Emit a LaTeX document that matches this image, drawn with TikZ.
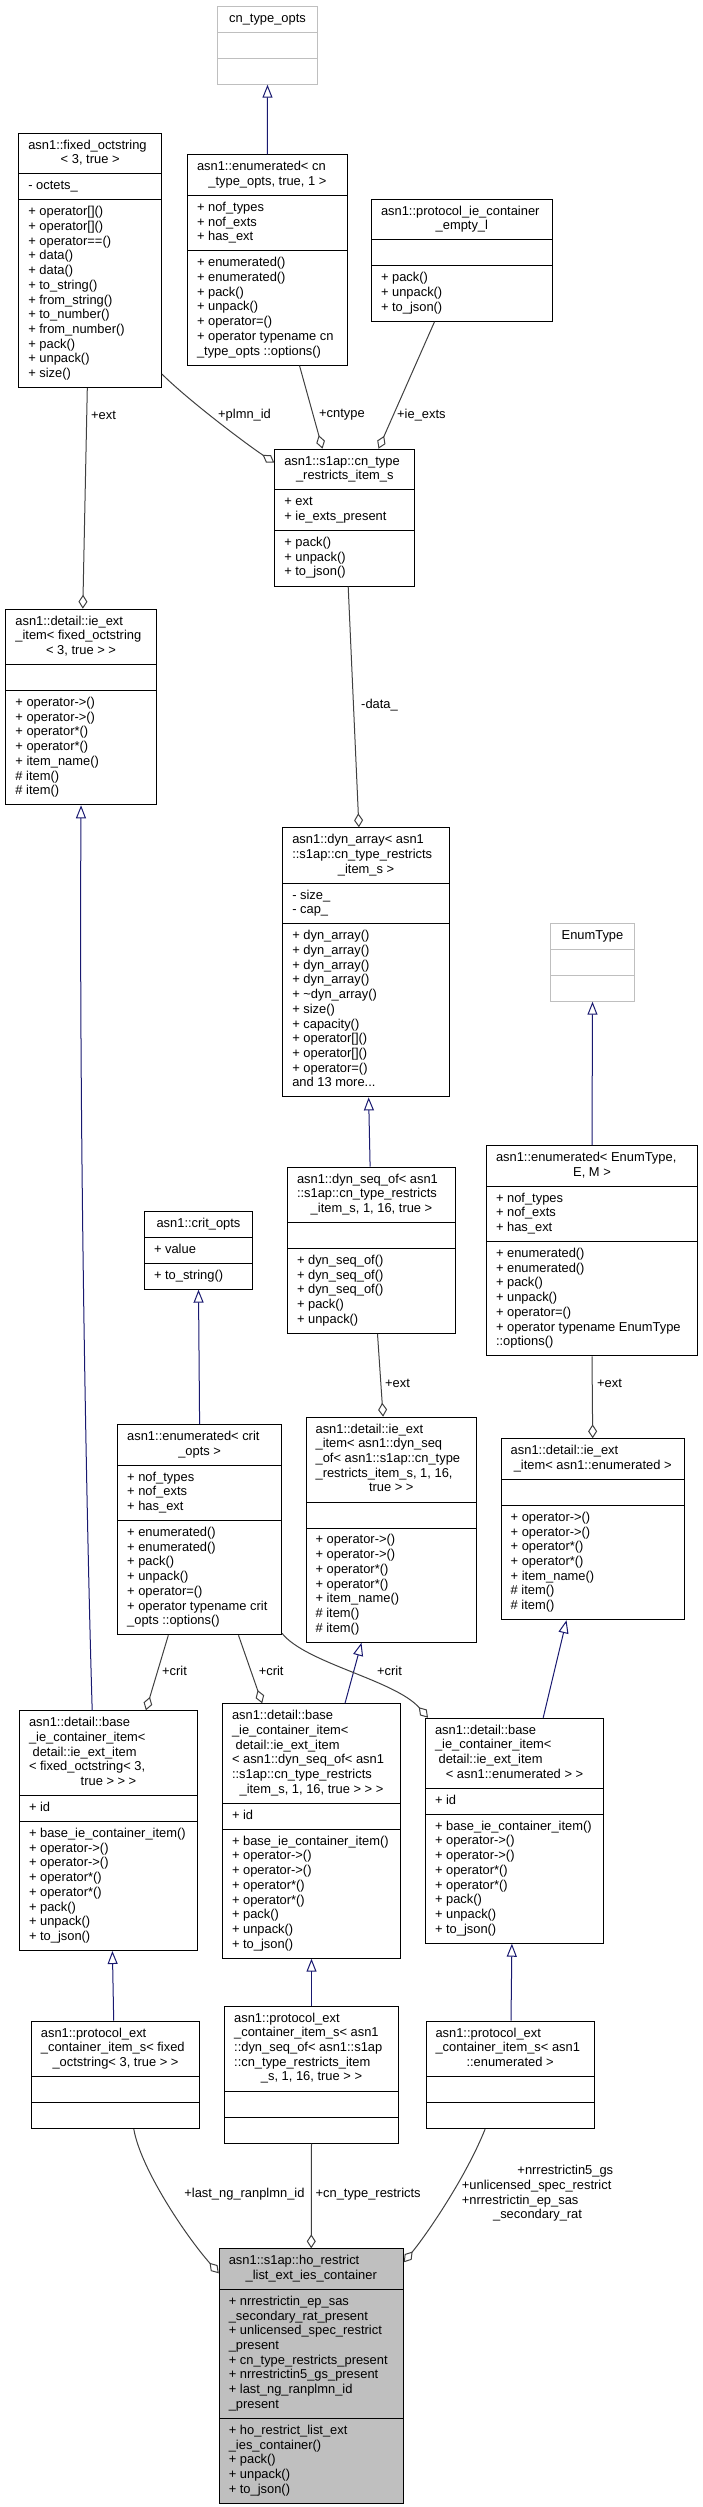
\documentclass[tikz,border=0pt]{standalone}
\usepackage{fontspec}
\setmainfont{Liberation Sans}
\usetikzlibrary{shapes.multipart,arrows.meta}
\definecolor{edgegrey}{HTML}{404040}
\definecolor{inhblue}{HTML}{191970}
\definecolor{boxgrey}{HTML}{BFBFBF}
\definecolor{undocgrey}{HTML}{BFBFBF}
\newcommand{\classfont}{\fontsize{12.9}{14.7}\selectfont\hyphenpenalty=10000\relax}
\newcommand{\cln}[1]{\hspace*{\fill}#1\hspace*{\fill}}
\tikzset{
  classbox/.style={rectangle split, rectangle split parts=3, draw=black, line width=1pt,
    fill=white, anchor=north west, inner xsep=9.5pt, inner ysep=5.15pt,
    align=flush left, font=\classfont},
  undocbox/.style={classbox, draw=undocgrey},
  mainbox/.style={classbox, fill=boxgrey},
  inherit/.style={draw=inhblue, line width=1pt, -{Triangle[open, length=13pt, width=10pt]}},
  member/.style={draw=edgegrey, line width=1pt, -{Diamond[open, length=14pt, width=9pt]}},
  edgelabel/.style={inner sep=0pt, font=\classfont, anchor=west}
}
\begin{document}
\begin{tikzpicture}[x=1pt,y=-1pt]
\useasboundingbox (0,0) rectangle (702,2507);
% classes
\node[undocbox, text width=81pt] (cntypeopts) at (217,5.7)
  {\strut\cln{cn\_type\_opts}\strut \nodepart{two}\strut \nodepart{three}\strut};
\node[classbox, text width=123.7pt] (fixedoct) at (18.3,132.7)
  {\strut asn1::fixed\_octstring\\ \cln{< 3, true >}\strut
   \nodepart{two}\strut - octets\_\strut
   \nodepart{three}\strut + operator[]()\\ + operator[]()\\ + operator==()\\ + data()\\ + data()\\
   + to\_string()\\ + from\_string()\\ + to\_number()\\ + from\_number()\\ + pack()\\ + unpack()\\ + size()\strut};
\node[classbox, text width=140.8pt] (enumcn) at (187,154.3)
  {\strut asn1::enumerated< cn\\ \cln{\_type\_opts, true, 1 >}\strut
   \nodepart{two}\strut + nof\_types\\ + nof\_exts\\ + has\_ext\strut
   \nodepart{three}\strut + enumerated()\\ + enumerated()\\ + pack()\\ + unpack()\\ + operator=()\\
   + operator typename cn\\ \_type\_opts ::options()\strut};
\node[classbox, text width=161.7pt] (ieempty) at (371,198.7)
  {\strut asn1::protocol\_ie\_container\\ \cln{\_empty\_l}\strut
   \nodepart{two}\strut
   \nodepart{three}\strut + pack()\\ + unpack()\\ + to\_json()\strut};
\node[classbox, text width=121pt] (cnitem) at (274.3,448.7)
  {\strut asn1::s1ap::cn\_type\\ \cln{\_restricts\_item\_s}\strut
   \nodepart{two}\strut + ext\\ + ie\_exts\_present\strut
   \nodepart{three}\strut + pack()\\ + unpack()\\ + to\_json()\strut};
\node[classbox, text width=131.3pt] (ieextfix) at (5.4,608.7)
  {\strut asn1::detail::ie\_ext\\ \_item< fixed\_octstring\\ \cln{< 3, true > >}\strut
   \nodepart{two}\strut
   \nodepart{three}\strut + operator->()\\ + operator->()\\ + operator*()\\ + operator*()\\
   + item\_name()\\ \# item()\\ \# item()\strut};
\node[classbox, text width=147.5pt] (dynarray) at (282.3,827.3)
  {\strut asn1::dyn\_array< asn1\\ ::s1ap::cn\_type\_restricts\\ \cln{\_item\_s >}\strut
   \nodepart{two}\strut - size\_\\ - cap\_\strut
   \nodepart{three}\strut + dyn\_array()\\ + dyn\_array()\\ + dyn\_array()\\ + dyn\_array()\\
   + \textasciitilde dyn\_array()\\ + size()\\ + capacity()\\ + operator[]()\\ + operator[]()\\
   + operator=()\\ and 13 more...\strut};
\node[undocbox, text width=65pt] (enumtype) at (550,922.7)
  {\strut\cln{EnumType}\strut \nodepart{two}\strut \nodepart{three}\strut};
\node[classbox, text width=192pt] (enumgen) at (486,1145)
  {\strut asn1::enumerated< EnumType,\\ \cln{E, M >}\strut
   \nodepart{two}\strut + nof\_types\\ + nof\_exts\\ + has\_ext\strut
   \nodepart{three}\strut + enumerated()\\ + enumerated()\\ + pack()\\ + unpack()\\ + operator=()\\
   + operator typename EnumType\\ ::options()\strut};
\node[classbox, text width=149pt] (dynseq) at (287,1166.7)
  {\strut asn1::dyn\_seq\_of< asn1\\ ::s1ap::cn\_type\_restricts\\ \cln{\_item\_s, 1, 16, true >}\strut
   \nodepart{two}\strut
   \nodepart{three}\strut + dyn\_seq\_of()\\ + dyn\_seq\_of()\\ + dyn\_seq\_of()\\ + pack()\\ + unpack()\strut};
\node[classbox, text width=89pt] (critopts) at (144,1210.7)
  {\strut\cln{asn1::crit\_opts}\strut
   \nodepart{two}\strut + value\strut
   \nodepart{three}\strut + to\_string()\strut};
\node[classbox, text width=144.8pt] (enumcrit) at (117.2,1424)
  {\strut asn1::enumerated< crit\\ \cln{\_opts >}\strut
   \nodepart{two}\strut + nof\_types\\ + nof\_exts\\ + has\_ext\strut
   \nodepart{three}\strut + enumerated()\\ + enumerated()\\ + pack()\\ + unpack()\\ + operator=()\\
   + operator typename crit\\ \_opts ::options()\strut};
\node[classbox, text width=151.4pt] (ieextdyn) at (305.6,1416.7)
  {\strut asn1::detail::ie\_ext\\ \_item< asn1::dyn\_seq\\ \_of< asn1::s1ap::cn\_type\\
   \_restricts\_item\_s, 1, 16,\\ \cln{true > >}\strut
   \nodepart{two}\strut
   \nodepart{three}\strut + operator->()\\ + operator->()\\ + operator*()\\ + operator*()\\
   + item\_name()\\ \# item()\\ \# item()\strut};
\node[classbox, text width=164pt] (ieextenum) at (500.7,1438.3)
  {\strut asn1::detail::ie\_ext\\ \cln{\_item< asn1::enumerated >}\strut
   \nodepart{two}\strut
   \nodepart{three}\strut + operator->()\\ + operator->()\\ + operator*()\\ + operator*()\\
   + item\_name()\\ \# item()\\ \# item()\strut};
\node[classbox, text width=159pt] (basefix) at (19,1710.3)
  {\strut asn1::detail::base\\ \_ie\_container\_item<\\ \hspace*{.28em}detail::ie\_ext\_item\\
   < fixed\_octstring< 3,\\ \cln{true > > >}\strut
   \nodepart{two}\strut + id\strut
   \nodepart{three}\strut + base\_ie\_container\_item()\\ + operator->()\\ + operator->()\\
   + operator*()\\ + operator*()\\ + pack()\\ + unpack()\\ + to\_json()\strut};
\node[classbox, text width=159pt] (basedyn) at (222,1703.3)
  {\strut asn1::detail::base\\ \_ie\_container\_item<\\ \hspace*{.28em}detail::ie\_ext\_item\\
   < asn1::dyn\_seq\_of< asn1\\ ::s1ap::cn\_type\_restricts\\ \cln{\_item\_s, 1, 16, true > > >}\strut
   \nodepart{two}\strut + id\strut
   \nodepart{three}\strut + base\_ie\_container\_item()\\ + operator->()\\ + operator->()\\
   + operator*()\\ + operator*()\\ + pack()\\ + unpack()\\ + to\_json()\strut};
\node[classbox, text width=159pt] (baseenum) at (425,1717.7)
  {\strut asn1::detail::base\\ \_ie\_container\_item<\\ \hspace*{.28em}detail::ie\_ext\_item\\
   \cln{< asn1::enumerated > >}\strut
   \nodepart{two}\strut + id\strut
   \nodepart{three}\strut + base\_ie\_container\_item()\\ + operator->()\\ + operator->()\\
   + operator*()\\ + operator*()\\ + pack()\\ + unpack()\\ + to\_json()\strut};
\node[classbox, text width=149.2pt] (protofix) at (30.9,2020.7)
  {\strut asn1::protocol\_ext\\ \_container\_item\_s< fixed\\ \cln{\_octstring< 3, true > >}\strut
   \nodepart{two}\strut \nodepart{three}\strut};
\node[classbox, text width=154.6pt] (protodyn) at (224.2,2005.7)
  {\strut asn1::protocol\_ext\\ \_container\_item\_s< asn1\\ ::dyn\_seq\_of< asn1::s1ap\\
   ::cn\_type\_restricts\_item\\ \cln{\_s, 1, 16, true > >}\strut
   \nodepart{two}\strut \nodepart{three}\strut};
\node[classbox, text width=149.2pt] (protoenum) at (425.5,2020.7)
  {\strut asn1::protocol\_ext\\ \_container\_item\_s< asn1\\ \cln{::enumerated >}\strut
   \nodepart{two}\strut \nodepart{three}\strut};
\node[mainbox, text width=164.9pt] (hocont) at (218.8,2248.3)
  {\strut asn1::s1ap::ho\_restrict\\ \cln{\_list\_ext\_ies\_container}\strut
   \nodepart{two}\strut + nrrestrictin\_ep\_sas\\ \_secondary\_rat\_present\\ + unlicensed\_spec\_restrict\\
   \_present\\ + cn\_type\_restricts\_present\\ + nrrestrictin5\_gs\_present\\ + last\_ng\_ranplmn\_id\\ \_present\strut
   \nodepart{three}\strut + ho\_restrict\_list\_ext\\ \_ies\_container()\\ + pack()\\ + unpack()\\ + to\_json()\strut};
% inheritance
\draw[inherit] (enumcn.north) -- (cntypeopts.south);
\draw[inherit] (enumgen.north) -- (enumtype.south);
\draw[inherit] (enumcrit.north) -- (critopts.south);
\draw[inherit] ([xshift=-1.4pt]dynseq.north) -- ([xshift=2.6pt]dynarray.south);
\draw[inherit] ([xshift=-16.3pt]basefix.north) .. controls +(-6,-200) and +(-2,300) .. (ieextfix.south);
\draw[inherit] ([xshift=33.5pt]basedyn.north) -- ([xshift=-29.8pt]ieextdyn.south);
\draw[inherit] ([xshift=28.7pt]baseenum.north) -- ([xshift=-26.2pt]ieextenum.south);
\draw[inherit] ([xshift=-1.8pt]protofix.north) -- ([xshift=3.9pt]basefix.south);
\draw[inherit] (protodyn.north) -- (basedyn.south);
\draw[inherit] ([xshift=0.9pt]protoenum.north) -- ([xshift=-2.6pt]baseenum.south);
% members
\draw[member] ([xshift=-2.85pt]fixedoct.south) -- ([xshift=1.75pt]ieextfix.north);
\draw[member] ([yshift=14pt]fixedoct.south east) .. controls +(25,25) and +(-30,-20) .. ([yshift=-14pt]cnitem.north west);
\draw[member] ([xshift=32.1pt]enumcn.south) -- ([xshift=-22.3pt]cnitem.north);
\draw[member] ([xshift=-27.35pt]ieempty.south) -- ([xshift=33.7pt]cnitem.north);
\draw[member] ([xshift=3.4pt]cnitem.south) -- ([xshift=-7.15pt]dynarray.north);
\draw[member] ([xshift=6pt]dynseq.south) -- ([xshift=-8.2pt]ieextdyn.north);
\draw[member] (enumgen.south) -- (ieextenum.north);
\draw[member] ([xshift=-31.3pt]enumcrit.south) -- ([xshift=37.4pt]basefix.north);
\draw[member] ([xshift=38.9pt]enumcrit.south) -- ([xshift=-49.3pt]basedyn.north);
\draw[member] ([yshift=2pt]enumcrit.south east) .. controls +(24,30) and +(-33,-37.7) .. ([xshift=3pt]baseenum.north west);
\draw[member] ([xshift=18.3pt]protofix.south) .. controls +(6.7,39) and +(-33.8,-38.3) .. ([yshift=-25pt]hocont.north west);
\draw[member] (protodyn.south) -- (hocont.north);
\draw[member] ([xshift=-25pt]protoenum.south) .. controls +(-19.6,49) and +(22.3,-27) .. ([yshift=-14pt]hocont.north east);
% labels
\node[edgelabel] (lblfixext) at (91,415) {+ext};
\node[edgelabel] (lblplmn) at (218,415) {+plmn\_id};
\node[edgelabel] (lblcntype) at (319,415) {+cntype};
\node[edgelabel] (lblieexts) at (397,415) {+ie\_exts};
\node[edgelabel] (lbldata) at (361,705) {-data\_};
\node[edgelabel] (lbldynext) at (385,1383.7) {+ext};
\node[edgelabel] (lblenumext) at (597,1383.7) {+ext};
\node[edgelabel] (lblcrita) at (162,1670.7) {+crit};
\node[edgelabel] (lblcritb) at (258.6,1670.7) {+crit};
\node[edgelabel] (lblcritc) at (377,1670.7) {+crit};
\node[edgelabel, anchor=east] (lbllastng) at (304.7,2193.7) {+last\_ng\_ranplmn\_id};
\node[edgelabel] (lblcnrestr) at (315.4,2193.7) {+cn\_type\_restricts};
\node[edgelabel, text width=151.3pt, align=flush left] (lblenumm) at (461.7,2193.7)
  {\strut\cln{+nrrestrictin5\_gs}\\ +unlicensed\_spec\_restrict\\ +nrrestrictin\_ep\_sas\\ \cln{\_secondary\_rat}\strut};
\end{tikzpicture}
\end{document}
